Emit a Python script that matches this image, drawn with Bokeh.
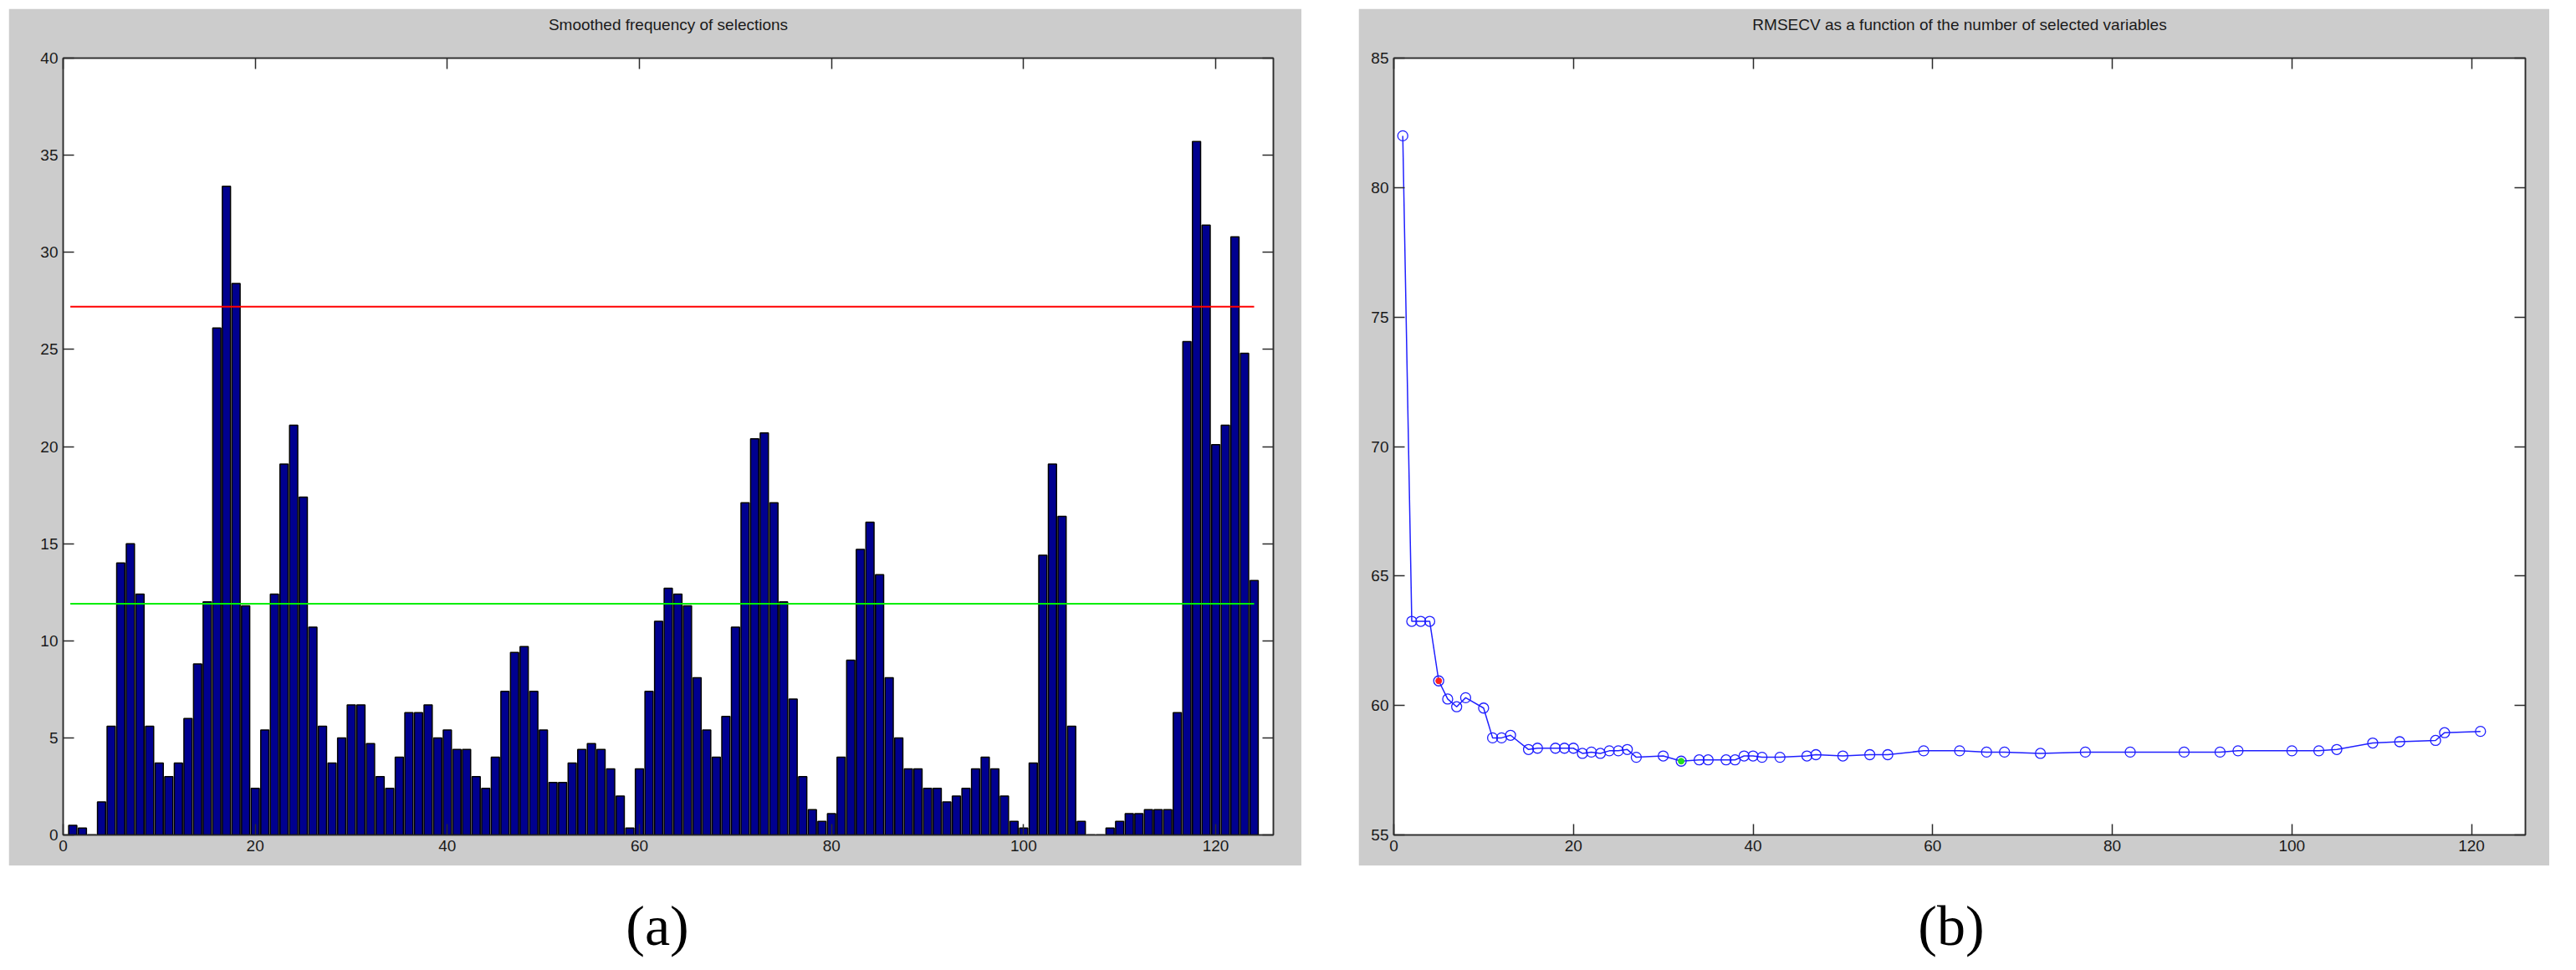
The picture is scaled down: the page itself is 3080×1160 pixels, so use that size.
from bokeh.plotting import figure
from bokeh.models import LinearAxis, FixedTicker, Range1d, Div, ColumnDataSource
from bokeh.layouts import row, column
from bokeh.embed import file_html
from bokeh.resources import INLINE

# ---------------- data: (a) smoothed frequency of selections ----------------
variables = list(range(1, 125))
frequency = [
    0.5, 0.35, 0.0, 1.7, 5.6, 14.0, 15.0, 12.4, 5.6, 3.7,
    3.0, 3.7, 6.0, 8.8, 12.0, 26.1, 33.4, 28.4, 11.8, 2.4,
    5.4, 12.4, 19.1, 21.1, 17.4, 10.7, 5.6, 3.7, 5.0, 6.7,
    6.7, 4.7, 3.0, 2.4, 4.0, 6.3, 6.3, 6.7, 5.0, 5.4,
    4.4, 4.4, 3.0, 2.4, 4.0, 7.4, 9.4, 9.7, 7.4, 5.4,
    2.7, 2.7, 3.7, 4.4, 4.7, 4.4, 3.4, 2.0, 0.35, 3.4,
    7.4, 11.0, 12.7, 12.4, 11.8, 8.1, 5.4, 4.0, 6.1, 10.7,
    17.1, 20.4, 20.7, 17.1, 12.0, 7.0, 3.0, 1.3, 0.7, 1.1,
    4.0, 9.0, 14.7, 16.1, 13.4, 8.1, 5.0, 3.4, 3.4, 2.4,
    2.4, 1.7, 2.0, 2.4, 3.4, 4.0, 3.4, 2.0, 0.7, 0.35,
    3.7, 14.4, 19.1, 16.4, 5.6, 0.7, 0.0, 0.0, 0.35, 0.7,
    1.1, 1.1, 1.3, 1.3, 1.3, 6.3, 25.4, 35.7, 31.4, 20.1,
    21.1, 30.8, 24.8, 13.1,
]
upper_threshold = 27.2
lower_threshold = 11.9

# ---------------- data: (b) RMSECV vs number of selected variables ----------------
n_selected = [1, 2, 3, 4, 5, 6, 7, 8, 10, 11, 12, 13, 15, 16, 18, 19, 20, 21, 22, 23,
              24, 25, 26, 27, 30, 32, 34, 35, 37, 38, 39, 40, 41, 43, 46, 47, 50, 53, 55, 59,
              63, 66, 68, 72, 77, 82, 88, 92, 94, 100, 103, 105, 109, 112, 116, 117, 121]
rmsecv = [82.0, 63.25, 63.25, 63.25, 60.95, 60.25, 59.95, 60.3, 59.9, 58.75,
          58.75, 58.85, 58.3, 58.35, 58.35, 58.35, 58.35, 58.15, 58.2, 58.15,
          58.25, 58.25, 58.3, 58.0, 58.05, 57.85, 57.9, 57.9, 57.9, 57.9,
          58.05, 58.05, 58.0, 58.0, 58.05, 58.1, 58.05, 58.1, 58.1, 58.25,
          58.25, 58.2, 58.2, 58.15, 58.2, 58.2, 58.2, 58.2, 58.25, 58.25,
          58.25, 58.3, 58.55, 58.6, 58.65, 58.95, 59.0]
red_n = 5      # highlighted (red) point
green_n = 32   # minimum (green) point

title_a = "Smoothed frequency of selections"
title_b = "RMSECV as a function of the number of selected variables"

x_ticks = [0, 20, 40, 60, 80, 100, 120]
freq_ticks = [0, 5, 10, 15, 20, 25, 30, 35, 40]
rmse_ticks = [55, 60, 65, 70, 75, 80, 85]

GRAY = "#cccccc"
DARK = "#2b2b2b"
FONT = "Liberation Sans"


def style_axes(p, yticks, title_text):
    top_ax = LinearAxis()
    right_ax = LinearAxis()
    p.add_layout(top_ax, "above")
    p.add_layout(right_ax, "right")
    for ax in list(p.xaxis) + list(p.yaxis):
        ax.major_tick_in = 13
        ax.major_tick_out = 0
        ax.minor_tick_line_color = None
        ax.axis_line_color = DARK
        ax.axis_line_width = 1.5
        ax.major_tick_line_color = DARK
        ax.major_tick_line_width = 1.5
        ax.major_label_text_font = FONT
        ax.major_label_text_font_size = "19px"
        ax.major_label_text_color = "#1a1a1a"
        ax.major_label_standoff = 6
    for ax in p.xaxis:
        ax.ticker = FixedTicker(ticks=x_ticks)
    for ax in p.yaxis:
        ax.ticker = FixedTicker(ticks=yticks)
    for ax, ticks in ((top_ax, x_ticks), (right_ax, yticks)):
        ax.major_label_overrides = {t: "" for t in ticks}
        ax.major_label_text_font_size = "1px"
        ax.major_label_standoff = 0
    # chart title, centred above the frame
    top_ax.axis_label = title_text
    top_ax.axis_label_text_font = FONT
    top_ax.axis_label_text_font_size = "19px"
    top_ax.axis_label_text_font_style = "normal"
    top_ax.axis_label_text_color = "#1a1a1a"
    top_ax.axis_label_standoff = 30
    p.xgrid.visible = False
    p.ygrid.visible = False


# ---------------- panel (a) ----------------
p1 = figure(width=1546, height=1025, x_range=Range1d(0, 126), y_range=Range1d(0, 40),
            output_backend="svg", toolbar_location=None,
            min_border_left=65, min_border_right=34, min_border_top=59, min_border_bottom=37,
            border_fill_color=GRAY, background_fill_color="white",
            outline_line_color=DARK, outline_line_width=1.5,
            margin=(10, 0, 0, 10))
src1 = ColumnDataSource(dict(x=variables, top=frequency))
p1.vbar(x="x", top="top", width=0.85, source=src1,
        fill_color="#00008f", line_color="black", line_width=1.5)
p1.line(x=[variables[0] - 0.25, variables[-1]], y=[upper_threshold] * 2,
        line_color="#ff0000", line_width=2)
p1.line(x=[variables[0] - 0.25, variables[-1]], y=[lower_threshold] * 2,
        line_color="#00ee00", line_width=2)
style_axes(p1, freq_ticks, title_a)

# ---------------- panel (b) ----------------
p2 = figure(width=1424, height=1025, x_range=Range1d(0, 126), y_range=Range1d(55, 85),
            output_backend="svg", toolbar_location=None,
            min_border_left=42, min_border_right=29, min_border_top=59, min_border_bottom=37,
            border_fill_color=GRAY, background_fill_color="white",
            outline_line_color=DARK, outline_line_width=1.5,
            margin=(10, 0, 0, 68))
src2 = ColumnDataSource(dict(n=n_selected, r=rmsecv))
p2.line(x="n", y="r", source=src2, line_color="#2020ff", line_width=1.5)
p2.scatter(x="n", y="r", source=src2, marker="circle", size=12,
           fill_color=None, line_color="#2020ff", line_width=1.3)
ri = n_selected.index(red_n)
gi = n_selected.index(green_n)
p2.scatter(x=[n_selected[ri]], y=[rmsecv[ri]], marker="circle", size=7,
           fill_color="#ff2020", line_color="#ff2020")
p2.scatter(x=[n_selected[gi]], y=[rmsecv[gi]], marker="circle", size=7,
           fill_color="#22dd22", line_color="#22dd22")
style_axes(p2, rmse_ticks, title_b)

# ---------------- captions ----------------
CAP = ('<div style="width:{w}px;font-family:\'Liberation Serif\',serif;font-size:68px;'
       'line-height:68px;padding-top:38px;text-align:center;color:#000;">{t}</div>')
cap_a = Div(text=CAP.format(w=1572, t="(a)"), width=1572, height=108, margin=(0, 0, 0, 0))
cap_b = Div(text=CAP.format(w=1400, t="(b)"), width=1400, height=108, margin=(0, 0, 0, 61))

layout = column(
    row(p1, p2),
    row(cap_a, cap_b),
)

open("out.html", "w").write(file_html(layout, INLINE))
